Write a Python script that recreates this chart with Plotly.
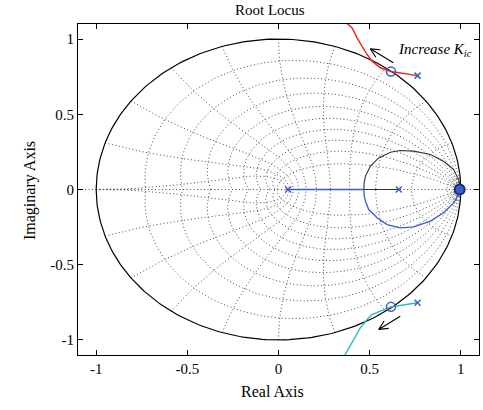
import numpy as np
import plotly.graph_objects as go

# ---- data ----
red_x = [0.763, 0.617, 0.559, 0.513, 0.486, 0.458, 0.431, 0.404, 0.373, 0.36]
red_y = [0.757, 0.784, 0.809, 0.853, 0.897, 0.952, 1.008, 1.074, 1.107, 1.13]
cyan_x = [0.763, 0.617, 0.559, 0.513, 0.486, 0.449, 0.413, 0.386, 0.362, 0.35]
cyan_y = [-0.753, -0.780, -0.808, -0.831, -0.864, -0.919, -0.997, -1.052, -1.103, -1.13]
blue_x = [0.053, 0.468, 0.470, 0.477, 0.495, 0.541, 0.596, 0.668, 0.742, 0.833, 0.906, 0.961, 0.988, 0.997]
blue_y = [0.0, 0.0, -0.040, -0.078, -0.133, -0.188, -0.233, -0.255, -0.248, -0.210, -0.155, -0.089, -0.033, -0.011]
black_x = [0.660, 0.468, 0.470, 0.477, 0.504, 0.550, 0.614, 0.668, 0.742, 0.833, 0.906, 0.961, 0.988, 0.997]
black_y = [0.0, 0.0, 0.045, 0.089, 0.155, 0.210, 0.248, 0.259, 0.255, 0.233, 0.188, 0.133, 0.066, 0.011]
pole_x = [0.763, 0.763, 0.053, 0.660]
pole_y = [0.757, -0.753, 0.0, 0.0]
zero_x = [0.617, 0.617]
zero_y = [0.784, -0.780]
multi_x = [0.994]
multi_y = [0.0]
tick_vals = [-1, -0.5, 0, 0.5, 1]
tick_text = ["-1", "-0.5", "0", "0.5", "1"]
# arrow (tail -> tip) in data units
arrows = [((0.630, 0.842), (0.504, 0.935)), ((0.668, -0.842), (0.550, -0.930))]

SERIF = "Liberation Serif, Times New Roman, serif"
GRIDC = "#4a4a4a"
fig = go.Figure()

def gridline(x, y):
    fig.add_trace(go.Scatter(x=x, y=y, mode="lines", hoverinfo="skip", showlegend=False,
                             line=dict(color=GRIDC, width=1, dash="1px,2.5px")))

# zgrid: damping lines
for zeta in np.arange(0.1, 0.95, 0.1):
    m = np.tan(np.arcsin(zeta))
    th = np.linspace(0, np.pi, 80)
    zz = np.exp(th * (-m + 1j))
    gridline(zz.real, zz.imag)
    gridline(zz.real, -zz.imag)
# zgrid: natural frequency lines
for wn in list(np.arange(1, 11) * np.pi / 10) + [0.03, 0.055, 0.08]:
    th = np.linspace(np.pi / 2, np.pi, 60)
    zz = np.exp(wn * np.exp(1j * th))
    gridline(zz.real, zz.imag)
    gridline(zz.real, -zz.imag)
# real-axis dotted line
gridline([-1.1, 1.1], [0, 0])

# unit circle
t = np.linspace(0, 2 * np.pi, 300)
fig.add_trace(go.Scatter(x=np.cos(t), y=np.sin(t), mode="lines", hoverinfo="skip",
                         showlegend=False, line=dict(color="black", width=1.2)))

# branches
fig.add_trace(go.Scatter(x=black_x, y=black_y, mode="lines", showlegend=False,
                         line=dict(color="#333333", width=1.1)))
fig.add_trace(go.Scatter(x=blue_x, y=blue_y, mode="lines", showlegend=False,
                         line=dict(color="#3a5fc0", width=1.3)))
fig.add_trace(go.Scatter(x=red_x, y=red_y, mode="lines", showlegend=False,
                         line=dict(color="#f02020", width=1.4)))
fig.add_trace(go.Scatter(x=cyan_x, y=cyan_y, mode="lines", showlegend=False,
                         line=dict(color="#20bcc0", width=1.4)))

# markers
fig.add_trace(go.Scatter(x=pole_x, y=pole_y, mode="markers", showlegend=False,
                         marker=dict(symbol="x-thin-open", size=6, color="#4060c0",
                                     line=dict(color="#4060c0", width=1.5))))
fig.add_trace(go.Scatter(x=zero_x, y=zero_y, mode="markers", showlegend=False,
                         marker=dict(symbol="circle-open", size=9, color="#4060c0",
                                     line=dict(color="#4060c0", width=1.5))))
fig.add_trace(go.Scatter(x=multi_x, y=multi_y, mode="markers", showlegend=False,
                         marker=dict(symbol="circle", size=10, color="#3a5fc8",
                                     line=dict(color="#1a2a70", width=2))))

# open V arrows (drawn in pixel-aware space)
SX, SY = 401 / 2.2, 331 / 2.2   # px per data unit
for (tx, ty), (hx, hy) in arrows:
    dx, dy = (tx - hx) * SX, (ty - hy) * SY
    L = np.hypot(dx, dy)
    ux, uy = dx / L, dy / L
    xs, ys = [tx, hx], [ty, hy]
    for ang in (0.45, -0.45):
        c, s = np.cos(ang), np.sin(ang)
        vx, vy = (ux * c - uy * s) * 10, (ux * s + uy * c) * 10
        xs += [hx + vx / SX, None, hx, ] if ang > 0 else [hx + vx / SX]
        ys += [hy + vy / SY, None, hy, ] if ang > 0 else [hy + vy / SY]
    fig.add_trace(go.Scatter(x=xs, y=ys, mode="lines", showlegend=False, hoverinfo="skip",
                             line=dict(color="black", width=1.1)))

ax_common = dict(range=[-1.1, 1.1], tickvals=tick_vals, ticktext=tick_text,
                 ticks="inside", ticklen=5, tickcolor="black", showline=True,
                 linecolor="black", linewidth=1, mirror="ticks", showgrid=False,
                 zeroline=False, tickfont=dict(family=SERIF, size=15, color="black"))
fig.update_layout(
    width=483, height=410,
    margin=dict(l=78, r=4, t=24, b=55),
    paper_bgcolor="white", plot_bgcolor="white",
    xaxis=ax_common, yaxis=ax_common,
    annotations=[
        dict(text="Root Locus", xref="paper", yref="paper", x=0.479, y=1.042,
             xanchor="center", yanchor="middle", showarrow=False,
             font=dict(family=SERIF, size=15, color="black")),
        dict(text="Real Axis", xref="paper", yref="paper", x=0.484, y=-0.109,
             xanchor="center", yanchor="middle", showarrow=False,
             font=dict(family=SERIF, size=16, color="black")),
        dict(text="Imaginary Axis", xref="paper", yref="paper", x=-0.12, y=0.498,
             xanchor="center", yanchor="middle", showarrow=False, textangle=-90,
             font=dict(family=SERIF, size=16, color="black")),
        dict(text="<i>Increase K<sub>ic</sub></i>", xref="x", yref="y", x=0.645, y=0.925,
             xanchor="left", yanchor="middle", showarrow=False,
             font=dict(family=SERIF, size=15, color="black")),
    ],
)
fig.write_html("out.html")
